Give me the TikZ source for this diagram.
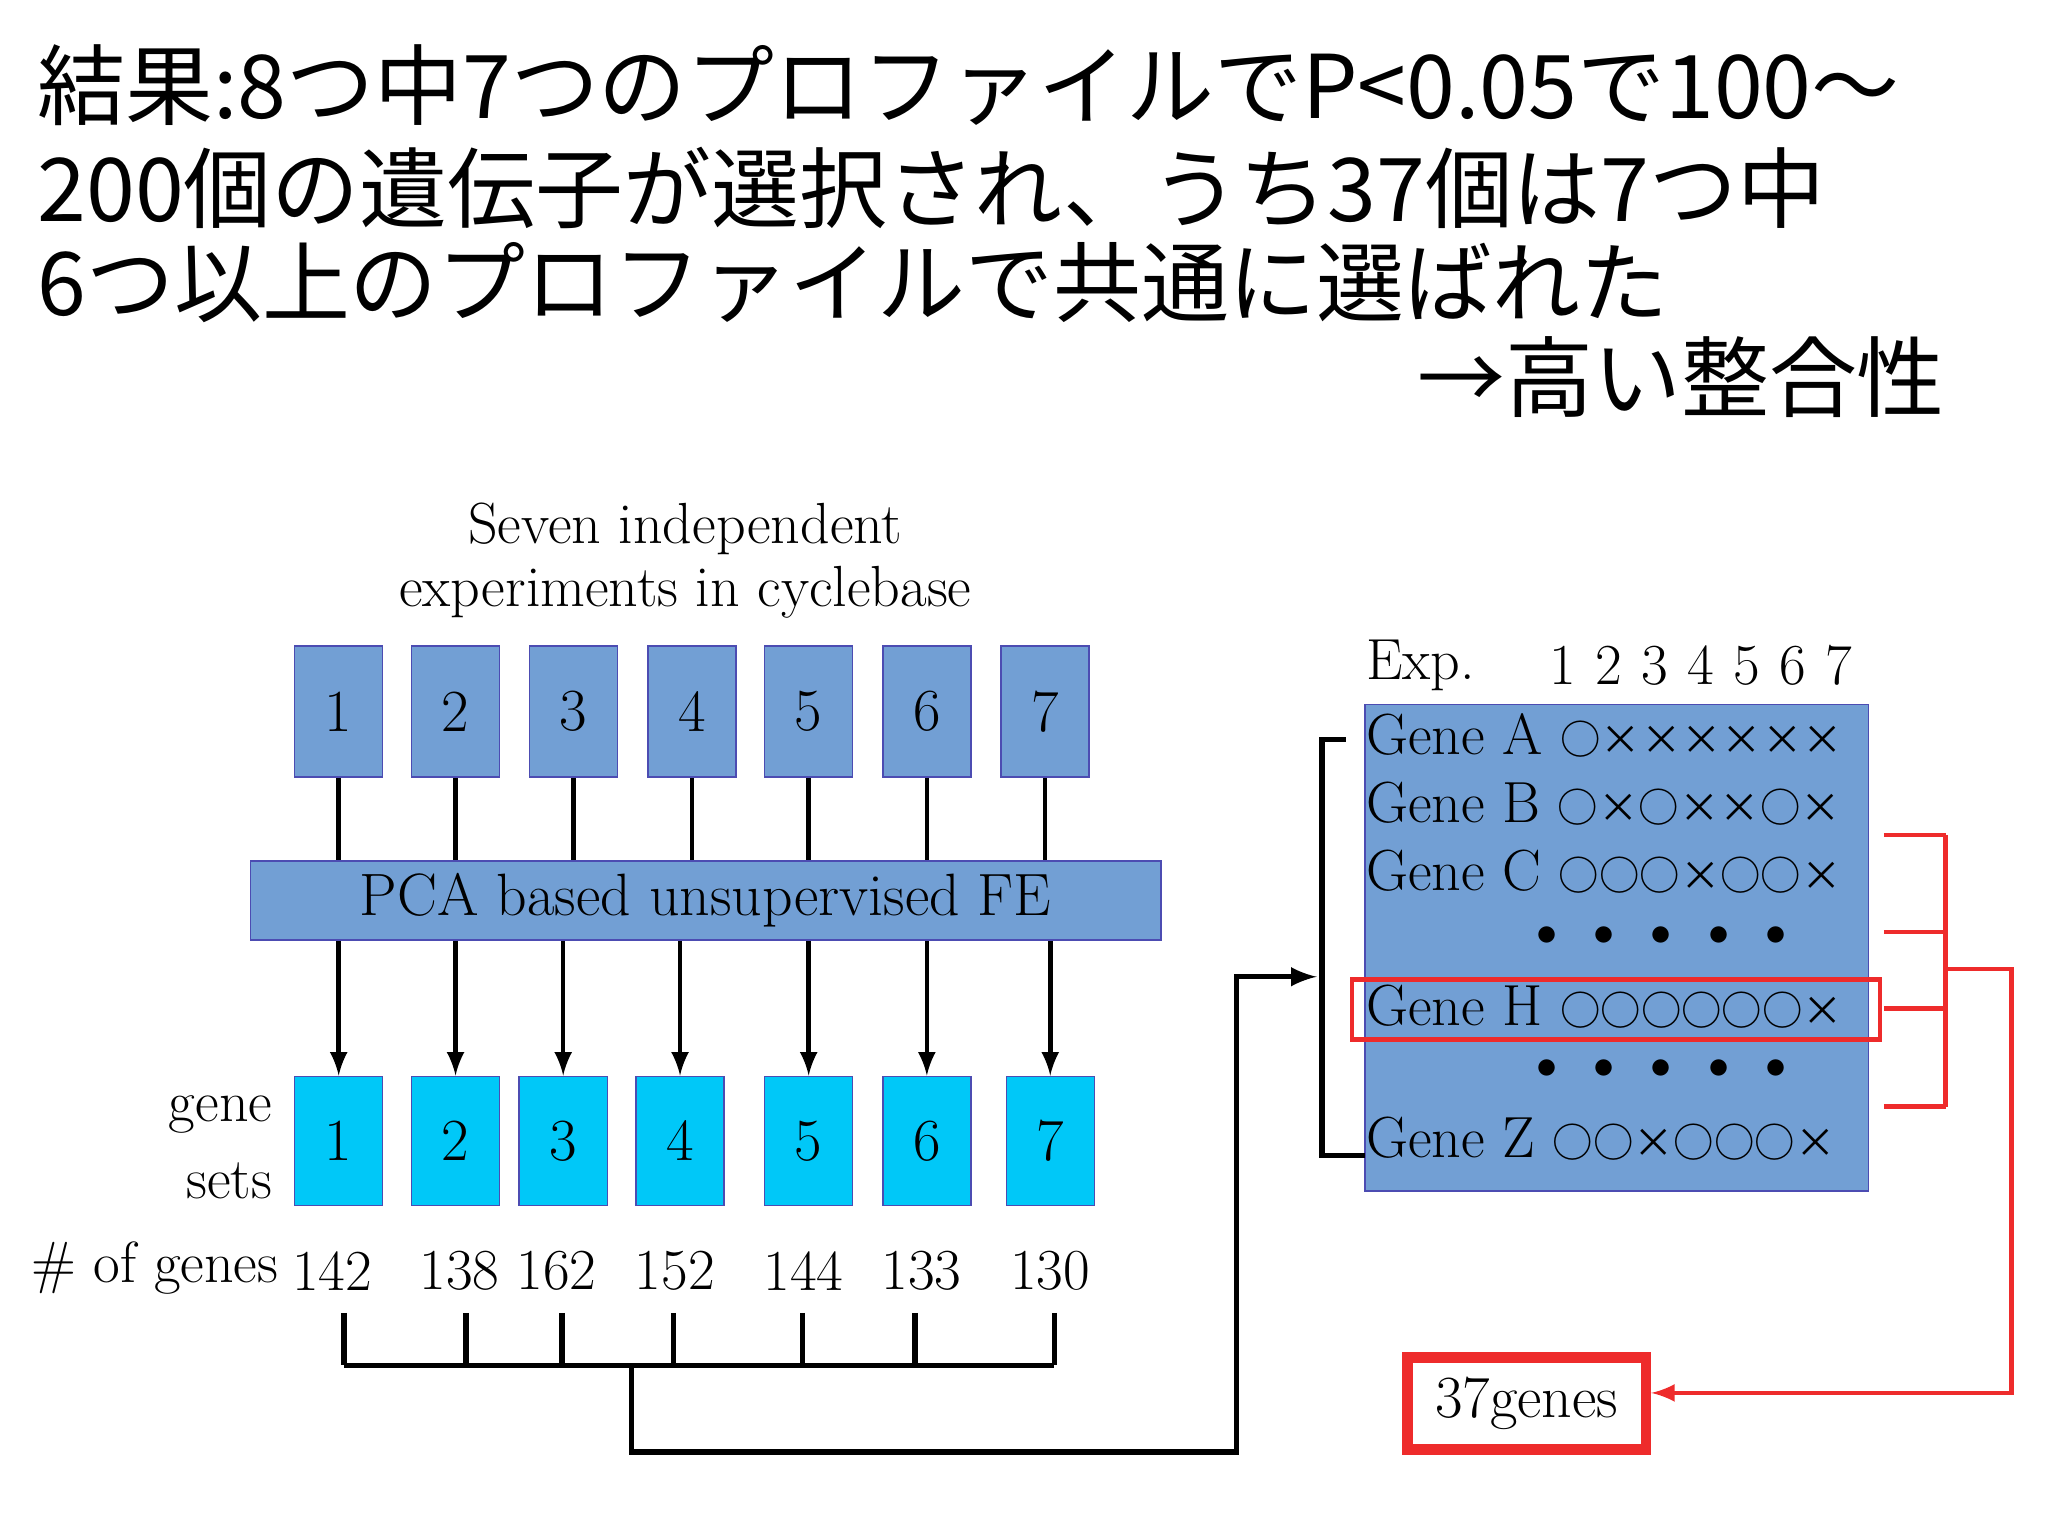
\documentclass[tikz,border=0pt]{standalone}
\usepackage{fontspec}
\newfontfamily\jp{Noto Sans CJK JP}
\newcommand{\sym}[1]{{\jp\fontsize{11.5}{12}\selectfont #1}}
\newcommand{\dotrow}{$\bullet$\hspace{0.36cm}$\bullet$\hspace{0.36cm}$\bullet$\hspace{0.36cm}$\bullet$\hspace{0.36cm}$\bullet$}
\begin{document}
\begin{tikzpicture}[x=0.01313cm,y=-0.01313cm,
 tbox/.style={draw=blue!40!gray,fill=boxblue,minimum width=0.88cm,minimum height=1.31cm,inner sep=0pt,font=\fontsize{17}{20}\selectfont},
 bbox/.style={draw=blue!40!gray,fill=cyanb,minimum width=0.88cm,minimum height=1.29cm,inner sep=0pt,font=\fontsize{17}{20}\selectfont},
 lab/.style={font=\fontsize{16.5}{20}\selectfont,inner sep=0pt},
 ttl/.style={font=\jp\fontsize{25}{30}\selectfont,anchor=west,inner sep=0pt},
 row/.style={anchor=west,inner sep=0pt,font=\fontsize{16.5}{20}\selectfont},
 arr/.style={-latex,line width=1.3pt},
 red/.style={draw=redc,line width=1.3pt}]
\definecolor{boxblue}{HTML}{729FD4}
\definecolor{cyanb}{HTML}{00C8F8}
\definecolor{redc}{HTML}{EE2B2B}
\useasboundingbox (0,0) rectangle (1560,1169);
\node[ttl] (t1) at (28,65) {結果:8つ中7つのプロファイルでP<0.05で100〜};
\node[ttl] (t2) at (28,143) {200個の遺伝子が選択され、うち37個は7つ中};
\node[ttl] (t3) at (28,215) {6つ以上のプロファイルで共通に選ばれた};
\node[ttl,anchor=east] (t4) at (1482,287) {→高い整合性};
\node[lab,align=center] (head) at (522,427) {Seven independent\\[-2pt]experiments in cyclebase};
\node[draw=blue!40!gray,fill=boxblue,minimum width=9.1cm,minimum height=0.79cm,inner sep=0pt,font=\fontsize{17}{20}\selectfont] (pca) at (537.5,686) {PCA based unsupervised FE};
\foreach \i/\xt/\xb in {1/258/258,2/347/347,3/437/429,4/527/518,5/616/616,6/706/706,7/796/800}{
 \node[tbox] (a\i) at (\xt,542) {\i};
 \node[bbox] (b\i) at (\xb,869) {\i};
 \draw[line width=1.3pt] (a\i.south) -- (a\i.south|-pca.north);
 \draw[arr] (b\i.north|-pca.south) -- (b\i.north);
}
\foreach \i/\x/\n in {1/253/142,2/350/138,3/424/162,4/514/152,5/612/144,6/702/133,7/800/130}
 \node[lab] (n\i) at (\x,968) {\n};
\node[lab,align=right] (gs) at (168,874) {gene\\[2pt]sets};
\node[lab] (of) at (118,966) {\# of genes};
\foreach \i/\x in {1/262,2/355,3/428,4/513,5/611,6/697,7/803}{
 \coordinate (k\i) at (\x,1000);
 \draw[line width=1.5pt] (k\i) -- ++(0,40);
}
\coordinate (bl) at (262,1040); \coordinate (br) at (803,1040);
\draw[line width=1.5pt] (bl) -- (br);
\coordinate (bm) at (481,1040);
\node[draw=blue!40!gray,fill=boxblue,minimum width=5.03cm,minimum height=4.86cm,inner sep=0pt] (panel) at (1231.5,722) {};
\coordinate (pin) at (1003,744);
\draw[line width=1.5pt,-latex] (bm) -- (481,1106) -- (942,1106) -- (942,744) -- (pin);
\node[row] at (1040,507) {Exp.};
\node[row] (hdr) at (1180,507) {1\,\,2\,\,3\,\,4\,\,5\,\,6\,\,7};
\node[row] (gA) at (1040,560) {Gene A \sym{○××××××}};
\node[row] (gB) at (1040,612) {Gene B \sym{○×○××○×}};
\node[row] (gC) at (1040,664) {Gene C \sym{○○○×○○×}};
\node[row,font=\fontsize{13}{14}\selectfont] at (1170,713) {\dotrow};
\node[row] (gH) at (1040,767) {Gene H \sym{○○○○○○×}};
\node[row,font=\fontsize{13}{14}\selectfont] at (1170,814) {\dotrow};
\node[row] (gZ) at (1040,867) {Gene Z \sym{○○×○○○×}};
\draw[line width=1.5pt] (1025,563) -- (1007,563) -- (1007,880) -- (1040,880);
\node[red,minimum width=5.28cm,minimum height=0.6cm,inner sep=0pt] (hbox) at (1231,769) {};
\foreach \y in {636,710,768,843} \draw[red] (1435,\y) -- (1482,\y);
\draw[red] (1482,636) -- (1482,843);
\node[draw=redc,line width=3pt,minimum width=2.38cm,minimum height=0.92cm,inner sep=0pt,font=\fontsize{17}{20}\selectfont] (g37) at (1163,1069) {37genes};
\draw[red,-latex] (1482,738) -- (1532,738) -- (1532,1061) -- (g37.east|-1532,1061);
\end{tikzpicture}
\end{document}
